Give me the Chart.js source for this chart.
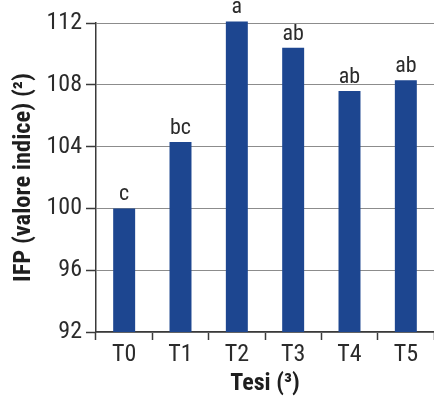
<!DOCTYPE html>
<html>
<head>
<meta charset="utf-8">
<script src="https://cdn.jsdelivr.net/npm/chart.js@4/dist/chart.umd.min.js"></script>
<style>
  html, body { margin: 0; padding: 0; background: #fff; }
  #wrap { width: 434px; height: 396px; position: relative; }
</style>
</head>
<body>
<div id="wrap"><canvas id="chart"></canvas></div>
<script>
// Treatments and IFP index values
const categories = ['T0', 'T1', 'T2', 'T3', 'T4', 'T5'];
const ifpValues = [100, 104.3, 112.1, 110.4, 107.6, 108.3];
const significance = ['c', 'bc', 'a', 'ab', 'ab', 'ab'];
const yTicks = [92, 96, 100, 104, 108, 112];

const FONT = '"Roboto Condensed", "DejaVu Sans Condensed", sans-serif';

// Letters above each bar
const letterPlugin = {
  id: 'letters',
  afterDatasetsDraw(chart) {
    const ctx = chart.ctx;
    const meta = chart.getDatasetMeta(0);
    ctx.save();
    ctx.font = '22px ' + FONT;
    ctx.fillStyle = '#2b2b2b';
    ctx.textAlign = 'center';
    ctx.textBaseline = 'alphabetic';
    meta.data.forEach((bar, i) => {
      ctx.fillText(significance[i], bar.x, bar.y - 8);
    });
    ctx.restore();
  }
};

new Chart(document.getElementById('chart'), {
  type: 'bar',
  data: {
    labels: categories,
    datasets: [{
      data: ifpValues,
      backgroundColor: '#1d4690',
      borderWidth: 0,
      categoryPercentage: 1,
      barPercentage: 0.39,
      // let T2 poke slightly above the 112 line, as in the original
      clip: { left: 0, top: 4, right: 0, bottom: 0 }
    }]
  },
  options: {
    responsive: true,
    maintainAspectRatio: false,
    animation: false,
    layout: { padding: { top: 23, right: 0, bottom: 0, left: 0 } },
    plugins: {
      legend: { display: false },
      tooltip: { enabled: false }
    },
    scales: {
      x: {
        grid: {
          drawOnChartArea: false,
          drawTicks: true,
          tickLength: 8,
          tickColor: '#3a3a3a',
          tickWidth: 1.5,
          offset: true
        },
        border: { color: '#3a3a3a', width: 1.5 },
        ticks: {
          color: '#2b2b2b',
          font: { family: FONT, size: 24 },
          padding: 1
        },
        title: {
          display: true,
          text: 'Tesi (³)',
          color: '#1e1e1e',
          font: { family: FONT, size: 24, weight: 'bold', lineHeight: 1 },
          padding: { top: 0, bottom: 0 }
        },
        afterFit(scale) { scale.height = 64; }
      },
      y: {
        min: 92,
        max: 112,
        afterBuildTicks(scale) { scale.ticks = yTicks.map(v => ({ value: v })); },
        grid: {
          color: '#8c8c8c',
          lineWidth: 1,
          tickLength: 10,
          tickColor: '#3a3a3a',
          tickWidth: 1.5
        },
        border: { color: '#3a3a3a', width: 1.5 },
        ticks: {
          color: '#2b2b2b',
          font: { family: FONT, size: 24 },
          padding: 4
        },
        title: {
          display: true,
          text: 'IFP (valore indice) (²)',
          color: '#1e1e1e',
          font: { family: FONT, size: 24.5, weight: 'bold' },
          padding: { top: 9, bottom: 0 }
        },
        afterFit(scale) { scale.width = 96; }
      }
    }
  },
  plugins: [letterPlugin]
});
</script>
</body>
</html>
